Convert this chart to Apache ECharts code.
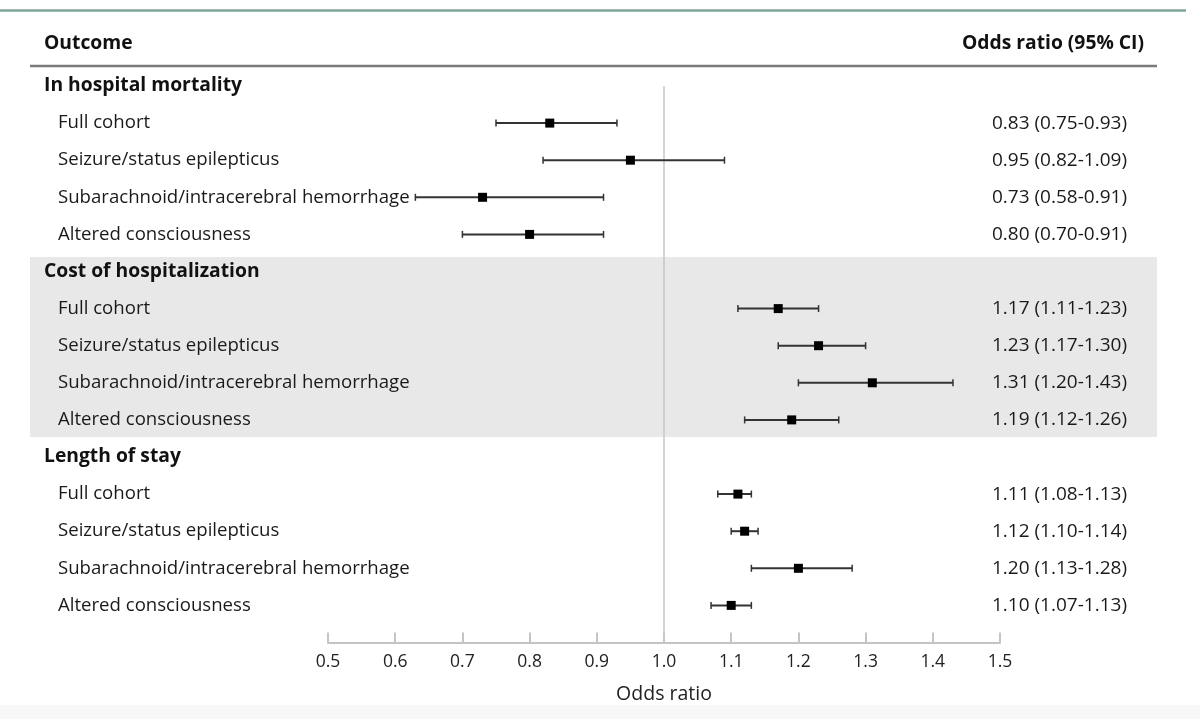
<!DOCTYPE html>
<html>
<head>
<meta charset="utf-8">
<script src="https://cdn.jsdelivr.net/npm/echarts@6/dist/echarts.min.js"></script>
<style>
html,body{margin:0;padding:0;background:#fff;}
#chart{width:1200px;height:719px;}
</style>
</head>
<body>
<div id="chart"></div>
<script>
// Row labels (index = row position, top to bottom)
var rowLabels = [
  'In hospital mortality', 'Full cohort', 'Seizure/status epilepticus', 'Subarachnoid/intracerebral hemorrhage', 'Altered consciousness',
  'Cost of hospitalization', 'Full cohort', 'Seizure/status epilepticus', 'Subarachnoid/intracerebral hemorrhage', 'Altered consciousness',
  'Length of stay', 'Full cohort', 'Seizure/status epilepticus', 'Subarachnoid/intracerebral hemorrhage', 'Altered consciousness'
];
var headerRows = [0, 5, 10];
// Estimates and CI (as drawn), per row (null for group headers)
var estimates = [null, 0.83, 0.95, 0.73, 0.80, null, 1.17, 1.23, 1.31, 1.19, null, 1.11, 1.12, 1.20, 1.10];
var lowerCI   = [null, 0.75, 0.82, 0.63, 0.70, null, 1.11, 1.17, 1.20, 1.12, null, 1.08, 1.10, 1.13, 1.07];
var upperCI   = [null, 0.93, 1.09, 0.91, 0.91, null, 1.23, 1.30, 1.43, 1.26, null, 1.13, 1.14, 1.28, 1.13];
var ciText = [
  '', '0.83 (0.75-0.93)', '0.95 (0.82-1.09)', '0.73 (0.58-0.91)', '0.80 (0.70-0.91)',
  '', '1.17 (1.11-1.23)', '1.23 (1.17-1.30)', '1.31 (1.20-1.43)', '1.19 (1.12-1.26)',
  '', '1.11 (1.08-1.13)', '1.12 (1.10-1.14)', '1.20 (1.13-1.28)', '1.10 (1.07-1.13)'
];
var xTicks = [0.5, 0.6, 0.7, 0.8, 0.9, 1.0, 1.1, 1.2, 1.3, 1.4, 1.5];
var shadedGroup = [5, 9]; // rows in the shaded band

var FONT = '"Open Sans", "Noto Sans", sans-serif';
var rowH = 37.1;
var gridTop = 86;
var nRows = rowLabels.length;

var barData = [];
for (var i = 0; i < nRows; i++) {
  if (estimates[i] !== null) barData.push([i, estimates[i], lowerCI[i], upperCI[i]]);
}

var chart = echarts.init(document.getElementById('chart'));
chart.setOption({
  animation: false,
  backgroundColor: '#ffffff',
  grid: { left: 328, right: 200, top: gridTop, height: rowH * (nRows - 1) },
  xAxis: {
    type: 'value', min: xTicks[0], max: xTicks[xTicks.length - 1], interval: 0.1,
    position: 'bottom',
    offset: rowH,
    axisLine: { show: true, onZero: false, lineStyle: { color: '#c4c4c4', width: 2 } },
    axisTick: { show: true, inside: true, length: 10, lineStyle: { color: '#c4c4c4', width: 2 } },
    splitLine: { show: false },
    axisLabel: {
      margin: 11, fontSize: 17.5, color: '#222', fontFamily: FONT,
      formatter: function (v) { return v.toFixed(1); }
    },
    name: 'Odds ratio', nameLocation: 'middle', nameGap: 42,
    nameTextStyle: { fontSize: 19.5, color: '#222', fontFamily: FONT }
  },
  yAxis: [{
    type: 'value', min: 0, max: nRows - 1, interval: 1, inverse: true, position: 'left',
    axisLine: { show: false }, axisTick: { show: false }, splitLine: { show: false },
    axisLabel: {
      align: 'left', margin: 328 - 44,
      formatter: function (v) {
        var i = Math.round(v);
        if (headerRows.indexOf(i) >= 0) return '{h|' + rowLabels[i] + '}';
        return '{s|' + rowLabels[i] + '}';
      },
      rich: {
        h: { fontSize: 19.3, fontWeight: 'bold', color: '#111', fontFamily: FONT },
        s: { fontSize: 18.6, color: '#1a1a1a', fontFamily: FONT, padding: [0, 0, 0, 14] }
      }
    }
  }, {
    type: 'value', min: 0, max: nRows - 1, interval: 1, inverse: true, position: 'right',
    axisLine: { show: false }, axisTick: { show: false }, splitLine: { show: false },
    axisLabel: {
      align: 'right', margin: 127, fontSize: 19, color: '#1a1a1a', fontFamily: FONT,
      formatter: function (v) { return ciText[Math.round(v)]; }
    }
  }],
  graphic: [
    { type: 'rect', shape: { x: 0, y: 705, width: 1200, height: 14 }, style: { fill: '#f8f8f8' }, z: -10 },
    { type: 'line', shape: { x1: 0, y1: 10.5, x2: 1186, y2: 10.5 }, style: { stroke: '#7fa595', lineWidth: 2.5 } },
    { type: 'line', shape: { x1: 30, y1: 66, x2: 1157, y2: 66 }, style: { stroke: '#7a7a7a', lineWidth: 2.5 } },
    { type: 'text', x: 44, y: 44, style: { text: 'Outcome', font: 'bold 19.3px ' + FONT, fill: '#111', textVerticalAlign: 'middle', textAlign: 'left' } },
    { type: 'text', x: 1144, y: 44, style: { text: 'Odds ratio (95% CI)', font: 'bold 19.3px ' + FONT, fill: '#111', textAlign: 'right', textVerticalAlign: 'middle' } }
  ],
  series: [
    {
      type: 'custom', z: 0, silent: true, clip: false,
      data: [shadedGroup],
      renderItem: function (params, api) {
        var y0 = api.coord([1, api.value(0) - 0.39])[1];
        var y1 = api.coord([1, api.value(1) + 0.46])[1];
        return { type: 'rect', shape: { x: 30, y: y0, width: 1127, height: y1 - y0 }, style: { fill: '#e8e8e8' } };
      }
    },
    {
      type: 'line', z: 1, silent: true, clip: false, symbol: 'none',
      data: [[1.0, 0], [1.0, nRows]],
      lineStyle: { color: '#c6c6c6', width: 1.5 }
    },
    {
      type: 'custom', z: 3, clip: false,
      data: barData,
      renderItem: function (params, api) {
        var y = api.coord([1, api.value(0)])[1];
        var xe = api.coord([api.value(1), 0])[0];
        var xl = api.coord([api.value(2), 0])[0];
        var xh = api.coord([api.value(3), 0])[0];
        var st = { stroke: '#333', lineWidth: 2 };
        return {
          type: 'group',
          children: [
            { type: 'line', shape: { x1: xl, y1: y, x2: xh, y2: y }, style: st },
            { type: 'line', shape: { x1: xl, y1: y - 3.5, x2: xl, y2: y + 3.5 }, style: { stroke: '#333', lineWidth: 1.5 } },
            { type: 'line', shape: { x1: xh, y1: y - 3.5, x2: xh, y2: y + 3.5 }, style: { stroke: '#333', lineWidth: 1.5 } },
            { type: 'rect', shape: { x: xe - 4.5, y: y - 4.5, width: 9, height: 9 }, style: { fill: '#000' } }
          ]
        };
      }
    }
  ]
});
</script>
</body>
</html>
